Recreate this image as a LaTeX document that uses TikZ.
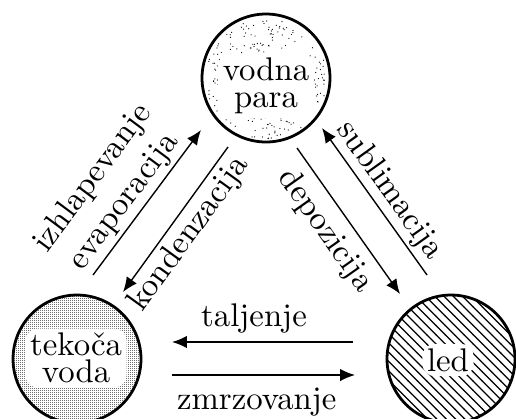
\documentclass[tikz,border=0pt]{standalone}
\usepackage{fontspec}
\usetikzlibrary{arrows.meta,patterns}
\pgfdeclarepatternformonly{densedots}{\pgfqpoint{0pt}{0pt}}{\pgfqpoint{0.65pt}{0.65pt}}{\pgfqpoint{0.65pt}{0.65pt}}{%
  \pgfpathcircle{\pgfqpoint{0.2pt}{0.2pt}}{0.2pt}\pgfusepath{fill}}
\begin{document}
\fontsize{10.6pt}{12.6pt}\selectfont
\begin{tikzpicture}[x=0.3235pt,y=-0.3235pt,
  state/.style={circle,draw,line width=0.9pt,minimum size=41.4pt,inner sep=0pt},
  inner/.style={fill=white,rounded corners=4pt,inner sep=1.5pt,align=center},
  arr/.style={line width=0.45pt,-{Latex[length=4.8pt,width=4pt]}},
  tag/.style={sloped,inner sep=0pt,align=center}]
\clip (0,0) rectangle (516,418);
% states
\node[state,pattern=densedots] (liq) at (77,359) {};
\node[state,pattern=north west lines] (ice) at (451,359) {};
\pgfmathsetseed{11}
\foreach \i in {1,...,330}{
  \pgfmathsetmacro\rr{61*sqrt(rnd)}
  \pgfmathsetmacro\aa{360*rnd}
  \fill[shift={(266,78)}] (\aa:\rr) circle (0.2pt);
}
\node[state] (vap) at (266,78) {};
\node[inner] (vapt) at (266,86) {vodna\\[-4pt]para};
\node[inner] (liqt) at (76,358) {tekoča\\[-4pt]voda};
\node[inner] (icet) at (448,360) {led};
% arrow end points
\coordinate (e1) at (93,275);  \coordinate (e2) at (201,130);
\coordinate (k1) at (228,147); \coordinate (k2) at (123,292);
\coordinate (s1) at (427,275); \coordinate (s2) at (322,128);
\coordinate (d1) at (297,148); \coordinate (d2) at (400,294);
\coordinate (t1) at (353,342); \coordinate (t2) at (172,342);
\coordinate (z1) at (172,375); \coordinate (z2) at (355,375);
% arrows
\draw[arr] (e1) -- node[tag,above=1.0pt,pos=0.43] (evl) {izhlapevanje\\evaporacija} (e2);
\draw[arr] (k1) -- node[tag,below=1.4pt,pos=0.52] (kol) {kondenzacija} (k2);
\draw[arr] (s1) -- node[tag,above=1.0pt,pos=0.50] (sul) {sublimacija} (s2);
\draw[arr] (d1) -- node[tag,below=3.0pt,pos=0.47] (del) {depozicija} (d2);
\draw[arr] (t1) -- node[tag,above=2.5pt,pos=0.547] (tal) {taljenje} (t2);
\draw[arr] (z1) -- node[tag,below=3.9pt,pos=0.463] (zml) {zmrzovanje} (z2);
\end{tikzpicture}
\end{document}
